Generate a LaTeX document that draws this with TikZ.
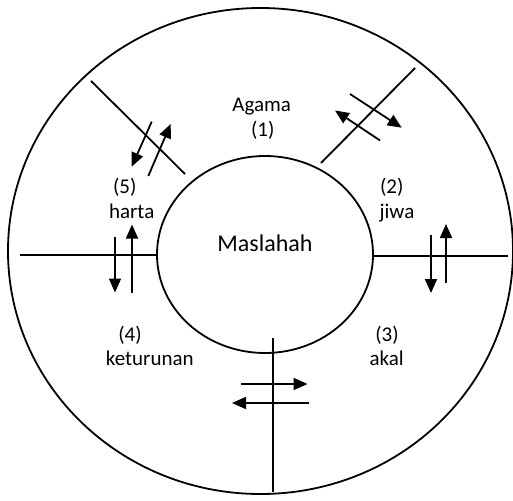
\documentclass[tikz,border=0pt]{standalone}
\usepackage{fontspec}
\setmainfont{Carlito}
\usetikzlibrary{arrows.meta}

\begin{document}
\begin{tikzpicture}[x=1pt, y=-1pt, line width=1.8pt,
    lbl/.style={font=\fontsize{21}{24}\selectfont, anchor=base, inner sep=0pt},
    arr/.style={-{Triangle[length=14pt, width=12pt]}}]
    \useasboundingbox (0,0) rectangle (513,500);

    % Outer ring and the inner core (Maslahah)
    \draw (260.5,251) ellipse [x radius=252.5, y radius=243];
    \draw (265,254.5) ellipse [x radius=108, y radius=98.5];

    % Separators between the five sectors
    \draw (20,255) -- (157,255);
    \draw (373,256) -- (508,256);
    \draw (273,338) -- (273,492);
    \draw (91,81) -- (185,174);
    \draw (415,68) -- (321,163);

    % Two-way arrows across each separator
    \draw[arr] (151.7,121.7) -- (131.7,166.7);
    \draw[arr] (148.3,176) -- (170.7,124);
    \draw[arr] (350,94) -- (401.7,127.7);
    \draw[arr] (380,140.5) -- (335,110.5);
    \draw[arr] (115,237) -- (115,292.5);
    \draw[arr] (132,293) -- (132,224.5);
    \draw[arr] (431,235) -- (431,293);
    \draw[arr] (446,283) -- (446,224);
    \draw[arr] (241,384) -- (307.5,384);
    \draw[arr] (308.5,403) -- (232,403);

    % Core label
    \node[lbl, font=\fontsize{24}{28}\selectfont] (core) at (265,251) {Maslahah};

    % Sector labels (number and name)
    \node[lbl] (agama) at (261.7,111.7) {Agama};
    \node[lbl] (n1) at (262.8,136.7) {(1)};
    \node[lbl] (n2) at (391.7,193.3) {(2)};
    \node[lbl] (jiwa) at (397,218.3) {jiwa};
    \node[lbl] (n3) at (387,341.7) {(3)};
    \node[lbl] (akal) at (386.7,365) {akal};
    \node[lbl] (n4) at (130,341.7) {(4)};
    \node[lbl] (keturunan) at (149.8,365) {keturunan};
    \node[lbl] (n5) at (124.7,193.3) {(5)};
    \node[lbl] (harta) at (131.7,218.3) {harta};
\end{tikzpicture}
\end{document}
